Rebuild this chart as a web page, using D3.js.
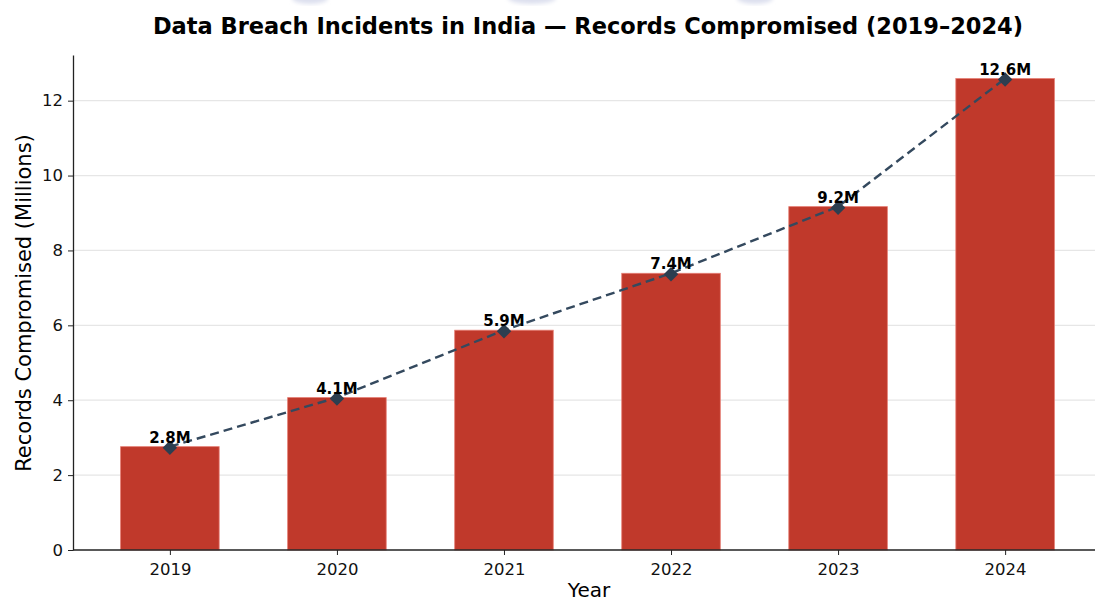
<!DOCTYPE html>
<html>
<head>
<meta charset="utf-8">
<script src="https://cdn.jsdelivr.net/npm/d3@7"></script>
<style>
  body { margin: 0; background: #fff; }
  svg { display: block; font-family: "DejaVu Sans", sans-serif; }
</style>
</head>
<body>
<script>
const years = ['2019', '2020', '2021', '2022', '2023', '2024'];
const records = [2.76, 4.07, 5.87, 7.39, 9.17, 12.59];
const yTicks = [0, 2, 4, 6, 8, 10, 12];

const width = 1095;
const height = 604;
const plotLeft = 73, plotRight = 1102, plotTop = 55, plotBottom = 550;

const svg = d3.select('body').append('svg')
    .attr('width', width)
    .attr('height', height);

// faint blobs at the top edge
const defs = svg.append('defs');
defs.append('filter').attr('id', 'blur')
    .append('feGaussianBlur').attr('stdDeviation', 2);
[[310, 18], [532, 24], [755, 18]].forEach(b => {
    svg.append('ellipse')
        .attr('cx', b[0]).attr('cy', -2)
        .attr('rx', b[1]).attr('ry', 6)
        .attr('fill', '#dcdfee')
        .attr('filter', 'url(#blur)');
});

//scales
const x = d3.scaleLinear()
    .domain([-0.58, years.length - 1 + 0.58])
    .range([plotLeft, plotRight]);
const y = d3.scaleLinear()
    .domain([0, d3.max(records) * 1.05])
    .range([plotBottom, plotTop]);

//grid
svg.append('g')
    .selectAll('line')
    .data(yTicks.filter(d => d > 0))
    .enter()
    .append('line')
        .attr('x1', plotLeft).attr('x2', width)
        .attr('y1', d => y(d)).attr('y2', d => y(d))
        .attr('stroke', '#e6e6e6')
        .attr('stroke-width', 1.2);

//bars
const barW = (x(1) - x(0)) * 0.59;
svg.selectAll('rect.bar')
    .data(records)
    .enter()
    .append('rect')
        .attr('class', 'bar')
        .attr('x', (d, i) => x(i) - barW / 2)
        .attr('y', d => y(d))
        .attr('width', barW)
        .attr('height', d => y(0) - y(d))
        .attr('fill', '#c0392b')
        .attr('stroke', '#e57d73')
        .attr('stroke-width', 0.8);

//dashed trend line
const line = d3.line()
    .x((d, i) => x(i))
    .y(d => y(d));
svg.append('path')
    .datum(records)
    .attr('d', line)
    .attr('fill', 'none')
    .attr('stroke', '#34495e')
    .attr('stroke-width', 2.4)
    .attr('stroke-dasharray', '9,5');

//diamonds
svg.selectAll('path.dia')
    .data(records)
    .enter()
    .append('path')
        .attr('class', 'dia')
        .attr('d', d3.symbol(d3.symbolSquare, 105))
        .attr('transform', (d, i) => `translate(${x(i)},${y(d) + 1}) rotate(45)`)
        .attr('fill', '#2c3e50');

//value labels
svg.selectAll('text.val')
    .data(records)
    .enter()
    .append('text')
        .attr('class', 'val')
        .attr('x', (d, i) => x(i))
        .attr('y', d => y(d) - 4)
        .attr('text-anchor', 'middle')
        .style('font-size', '15px')
        .style('font-weight', 'bold')
        .text(d => d.toFixed(1) + 'M');

//axes
const xAxis = d3.axisBottom(x)
    .tickValues(d3.range(years.length))
    .tickFormat(i => years[i])
    .tickSize(5)
    .tickSizeOuter(0);
const gx = svg.append('g')
    .attr('transform', `translate(0, ${plotBottom})`)
    .call(xAxis)
    .attr('font-size', 16.5)
    .attr('font-family', 'DejaVu Sans');
gx.select('.domain').attr('stroke', '#222').attr('stroke-width', 1.3)
    .attr('d', `M${plotLeft},0H${width}`);
gx.selectAll('.tick line').attr('stroke', '#222');
gx.selectAll('.tick text').attr('y', 13).attr('fill', '#111');

const yAxis = d3.axisLeft(y)
    .tickValues(yTicks)
    .tickSize(5)
    .tickSizeOuter(0);
const gy = svg.append('g')
    .attr('transform', `translate(${plotLeft}, 0)`)
    .call(yAxis)
    .attr('font-size', 16.5)
    .attr('font-family', 'DejaVu Sans');
gy.select('.domain').attr('stroke', '#222').attr('stroke-width', 1.3);
gy.selectAll('.tick line').attr('stroke', '#222');
gy.selectAll('.tick text').attr('x', -10).attr('fill', '#111');

//axis labels
svg.append('text')
    .attr('x', 589)
    .attr('y', 597)
    .attr('text-anchor', 'middle')
    .style('font-size', '20px')
    .text('Year');
svg.append('text')
    .attr('transform', 'rotate(-90)')
    .attr('x', -303)
    .attr('y', 31)
    .attr('text-anchor', 'middle')
    .style('font-size', '21px')
    .text('Records Compromised (Millions)');

//title
svg.append('text')
    .attr('x', 588)
    .attr('y', 34)
    .attr('text-anchor', 'middle')
    .style('font-size', '22.5px')
    .style('font-weight', 'bold')
    .text('Data Breach Incidents in India — Records Compromised (2019–2024)');
</script>
</body>
</html>
